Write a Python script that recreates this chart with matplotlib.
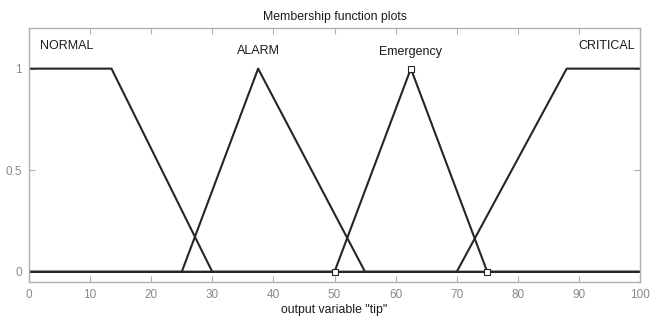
import numpy as np
import matplotlib.pyplot as plt

plt.rcParams['font.family'] = ['Liberation Sans', 'DejaVu Sans']

# membership functions of output variable "tip"
names = ['NORMAL', 'ALARM', 'Emergency', 'CRITICAL']
mf_types = ['trapmf', 'trimf', 'trimf', 'trapmf']
mf_params = [[0, 0, 13.5, 30], [25, 37.5, 55], [50, 62.5, 75], [70, 88, 100, 100]]
label_x = [6.2, 37.5, 62.5, 94.6]
label_y = [1.11, 1.085, 1.08, 1.11]
selected = 2
x_range = [0, 100]

fig = plt.figure(figsize=(6.5, 3.22), dpi=100)
ax = fig.add_axes([29 / 650, 1 - 282 / 322, 611 / 650, 254 / 322])

line_col = '#262626'
for i, p in enumerate(mf_params):
    if mf_types[i] == 'trimf':
        xs = [x_range[0], p[0], p[1], p[2], x_range[1]]
        ys = [0, 0, 1, 0, 0]
    else:
        xs = [x_range[0], p[0], p[1], p[2], p[3], x_range[1]]
        ys = [0, 0, 1, 1, 0, 0]
        if p[0] == p[1] == x_range[0]:
            xs, ys = xs[2:], ys[2:]
            xs = [x_range[0]] + xs
            ys = [1] + ys
        if p[2] == p[3] == x_range[1]:
            xs, ys = xs[:-2], ys[:-2]
    ax.plot(xs, ys, color=line_col, lw=1.5, solid_joinstyle='round')
    if i == selected:
        ax.plot(p, [0, 1, 0], ls='none', marker='s', ms=5, mfc='white',
                mec=line_col, mew=0.8, zorder=3)
    ax.text(label_x[i], label_y[i], names[i], ha='center', va='center',
            fontsize=9, color='#1a1a1a')

ax.set_xlim(x_range)
ax.set_ylim(-0.05, 1.2)
ax.set_xticks(np.arange(0, 101, 10))
ax.set_yticks([0, 0.5, 1])
ax.set_yticklabels(['0', '0.5', '1'])
ax.tick_params(direction='in', length=4, width=0.8, colors='#b0b0b0',
               labelcolor='#8a8a8a', labelsize=8.5, top=True, right=True, pad=5)
for s in ax.spines.values():
    s.set_color('#b0b0b0')
    s.set_linewidth(1.0)

ax.set_title('Membership function plots', fontsize=8.8, color='#1a1a1a', pad=6)
ax.set_xlabel('output variable "tip"', fontsize=8.8, color='#1a1a1a', labelpad=2)

fig.savefig('out.png', dpi=100)
